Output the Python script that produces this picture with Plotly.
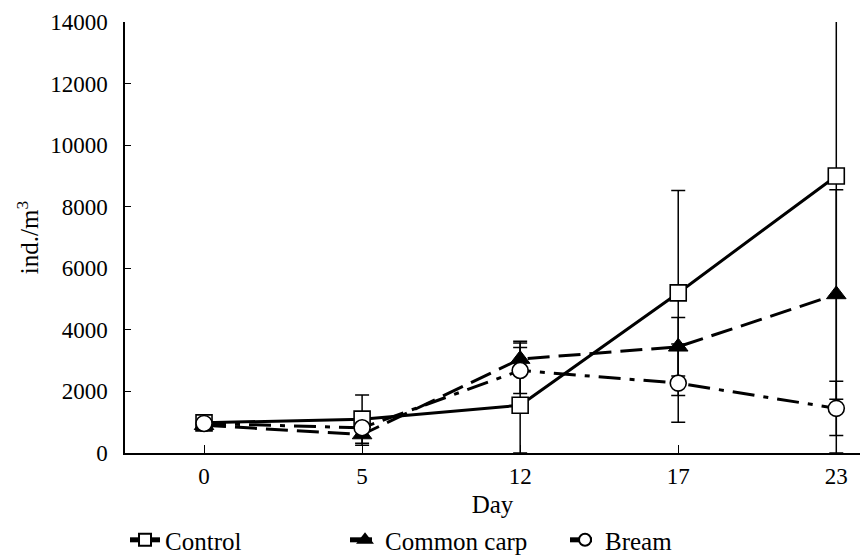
import plotly.graph_objects as go

days = ["0", "5", "12", "17", "23"]
xpos = [0, 1, 2, 3, 4]
yticks = [0, 2000, 4000, 6000, 8000, 10000, 12000, 14000]
yticklabels = ["0", "2000", "4000", "6000", "8000", "10000", "12000", "14000"]

control = [980, 1100, 1550, 5200, 9000]
control_err_up = [0, 780, 2080, 3330, 5200]
control_err_dn = [0, 780, 1550, 3330, 9000]

carp = [900, 600, 3050, 3450, 5150]
carp_err_up = [0, 350, 520, 950, 3400]
carp_err_dn = [0, 350, 520, 950, 3400]

bream = [960, 820, 2680, 2270, 1450]
bream_err_up = [0, 0, 750, 1270, 880]
bream_err_dn = [0, 0, 750, 1270, 880]

series = [
    ("Control", control, control_err_up, control_err_dn, "solid",
     dict(symbol="square", size=16, color="white", line=dict(color="black", width=1.6))),
    ("Common carp", carp, carp_err_up, carp_err_dn, "22px,9px",
     dict(symbol="triangle-up", size=17, color="black", line=dict(color="black", width=1))),
    ("Bream", bream, bream_err_up, bream_err_dn, "22px,9px,5px,9px",
     dict(symbol="circle", size=16, color="white", line=dict(color="black", width=1.6))),
]

FAM = "Liberation Serif"


def f(size):
    return dict(family=FAM, size=size, color="black")


fig = go.Figure()
for name, y, eu, ed, dash, marker in series:
    fig.add_trace(go.Scatter(
        x=xpos, y=y, name=name, mode="lines+markers",
        line=dict(color="black", width=3, dash=dash),
        marker=marker,
        error_y=dict(type="data", array=eu, arrayminus=ed, symmetric=False,
                     color="black", thickness=1.5, width=7),
        cliponaxis=False,
    ))

fig.update_layout(
    template="none",
    width=860, height=555,
    margin=dict(l=125, r=0, t=22, b=102, autoexpand=False),
    plot_bgcolor="white", paper_bgcolor="white",
    font=f(23),
    showlegend=True,
    legend=dict(orientation="h", x=0.449, xanchor="center", y=-0.202, yanchor="middle",
                font=f(25), traceorder="normal", itemsizing="constant",
                entrywidth=175, entrywidthmode="pixels"),
    xaxis=dict(
        range=[-0.5, 4.15], tickmode="array", tickvals=xpos, ticktext=days,
        tickfont=f(23),
        showline=True, linecolor="black", linewidth=1.5,
        ticks="inside", ticklen=8, tickcolor="black", tickwidth=1.2,
        showgrid=False, zeroline=False, ticklabelstandoff=2,
        title=dict(text="Day", standoff=7, font=f(25)),
    ),
    yaxis=dict(
        range=[0, 14000], tickmode="array", tickvals=yticks, ticktext=yticklabels,
        tickfont=f(23),
        showline=True, linecolor="black", linewidth=1.5,
        ticks="inside", ticklen=6, tickcolor="black", tickwidth=1.2,
        showgrid=False, zeroline=False, ticklabelstandoff=11,
        title=dict(text="ind./m<sup>3</sup>", standoff=4, font=f(25)),
    ),
)

fig.write_html("out.html")
